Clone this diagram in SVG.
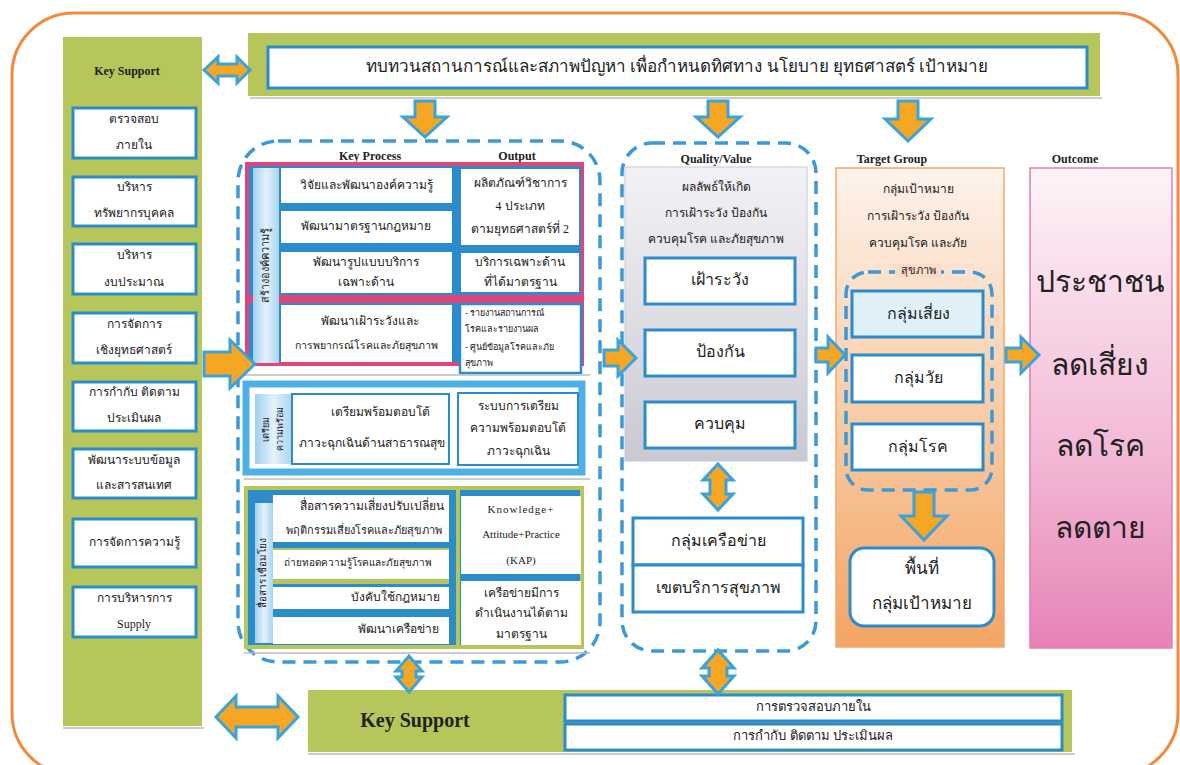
<svg xmlns="http://www.w3.org/2000/svg" width="1180" height="765" viewBox="0 0 1180 765">
<defs>
<linearGradient id="gLabel" x1="0" y1="0" x2="1" y2="0"><stop offset="0" stop-color="#9fd0ee"/><stop offset="0.5" stop-color="#e4f2fb"/><stop offset="1" stop-color="#a9d5ef"/></linearGradient>
<linearGradient id="gGray" x1="0" y1="0" x2="0" y2="1"><stop offset="0" stop-color="#f2f2f6"/><stop offset="1" stop-color="#c9c9d3"/></linearGradient>
<linearGradient id="gOrange" x1="0" y1="0" x2="0" y2="1"><stop offset="0" stop-color="#fdf3ec"/><stop offset="0.5" stop-color="#f8cda8"/><stop offset="1" stop-color="#f4a463"/></linearGradient>
<linearGradient id="gPink" x1="0" y1="0" x2="0" y2="1"><stop offset="0" stop-color="#fdf4f8"/><stop offset="0.6" stop-color="#f3b8d6"/><stop offset="1" stop-color="#e683b6"/></linearGradient>
<style>
.t{font-family:"Liberation Serif","Noto Sans",serif;fill:#222;text-anchor:middle;dominant-baseline:middle}
.l{text-anchor:start}
.s{font-size:12px}
.m{font-size:13px}
.h{font-size:12px;font-weight:bold}
.big{font-size:30px}
.green{fill:#b6c65a}
.wb{fill:#fff;stroke:#2b8ccc;stroke-width:3}
.dash{fill:none;stroke:#3a9ad9;stroke-width:3.5;stroke-dasharray:13 8}
.arr{fill:#f5a623;stroke:#3aa2dc;stroke-width:3;stroke-linejoin:miter}
.sh{stroke:#bbb;stroke-width:1.5}
</style>
</defs>
<rect x="12" y="13" width="1166" height="762" rx="62" fill="#fff" stroke="#f08a3c" stroke-width="3"/>

<g id="left-support">
<rect x="63" y="37" width="139" height="689" class="green"/>
<line x1="63" y1="728" x2="204" y2="728" class="sh"/>
<text x="127" y="72" class="t h">Key Support</text>
<rect x="73" y="108" width="123" height="50" class="wb"/><text x="134" y="120" class="t s">ตรวจสอบ</text><text x="134" y="146" class="t s">ภายใน</text>
<rect x="73" y="177" width="123" height="49" class="wb"/><text x="134" y="188" class="t s">บริหาร</text><text x="134" y="214" class="t s">ทรัพยากรบุคคล</text>
<rect x="73" y="244" width="123" height="50" class="wb"/><text x="134" y="256" class="t s">บริหาร</text><text x="134" y="283" class="t s">งบประมาณ</text>
<rect x="73" y="313" width="123" height="50" class="wb"/><text x="134" y="325" class="t s">การจัดการ</text><text x="134" y="351" class="t s">เชิงยุทธศาสตร์</text>
<rect x="73" y="382" width="123" height="49" class="wb"/><text x="134" y="393" class="t s">การกำกับ ติดตาม</text><text x="134" y="419" class="t s">ประเมินผล</text>
<rect x="73" y="449" width="123" height="49" class="wb"/><text x="134" y="461" class="t s">พัฒนาระบบข้อมูล</text><text x="134" y="486" class="t s">และสารสนเทศ</text>
<rect x="73" y="519" width="123" height="48" class="wb"/><text x="134" y="543" class="t s">การจัดการความรู้</text>
<rect x="73" y="587" width="123" height="50" class="wb"/><text x="134" y="599" class="t s">การบริหารการ</text><text x="134" y="625" class="t s">Supply</text>
</g>

<g id="top-bar">
<rect x="248" y="33" width="852" height="63" class="green"/>
<line x1="250" y1="98" x2="1102" y2="98" class="sh"/>
<rect x="268" y="47" width="819" height="41" class="wb"/>
<text x="677" y="68" class="t" font-size="17">ทบทวนสถานการณ์และสภาพปัญหา เพื่อกำหนดทิศทาง นโยบาย ยุทธศาสตร์ เป้าหมาย</text>
</g>

<g id="key-process">
<rect x="238" y="141" width="362" height="521" rx="40" class="dash"/>
<text x="370" y="157" class="t h">Key Process</text>
<text x="517" y="157" class="t h">Output</text>
<g id="sec-surveillance">
<rect x="247" y="164" width="335" height="200" fill="#2b8ccc" stroke="#e0457a" stroke-width="4"/>
<rect x="249" y="295" width="333" height="8" fill="#e0457a"/>
<rect x="253" y="168" width="26" height="195" fill="url(#gLabel)"/>
<text transform="translate(266,265) rotate(-90)" class="t" font-size="11">สร้างองค์ความรู้</text>
<rect x="281" y="168" width="171" height="35" fill="#fff"/><text x="366" y="186" class="t s">วิจัยและพัฒนาองค์ความรู้</text>
<rect x="281" y="211" width="171" height="32" fill="#fff"/><text x="366" y="227" class="t s">พัฒนามาตรฐานกฎหมาย</text>
<rect x="281" y="252" width="171" height="41" fill="#fff"/><text x="366" y="263" class="t s">พัฒนารูปแบบบริการ</text><text x="366" y="283" class="t s">เฉพาะด้าน</text>
<rect x="281" y="305" width="171" height="57" fill="#fff"/><text x="370" y="322" class="t s">พัฒนาเฝ้าระวังและ</text><text x="366" y="347" class="t" font-size="10.5">การพยากรณ์โรคและภัยสุขภาพ</text>
<rect x="460" y="168" width="120" height="78" fill="#fff" stroke="#2b8ccc" stroke-width="2"/>
<text x="520" y="184" class="t s">ผลิตภัณฑ์วิชาการ</text><text x="520" y="207" class="t s">4 ประเภท</text><text x="520" y="230" class="t s">ตามยุทธศาสตร์ที่ 2</text>
<rect x="460" y="252" width="120" height="41" fill="#fff" stroke="#2b8ccc" stroke-width="2"/>
<text x="520" y="263" class="t s">บริการเฉพาะด้าน</text><text x="520" y="283" class="t s">ที่ได้มาตรฐาน</text>
<rect x="460" y="304" width="121" height="69" fill="#fff" stroke="#2b8ccc" stroke-width="2.5"/>
<text x="465" y="314" class="t l" font-size="9">- รายงานสถานการณ์</text>
<text x="465" y="330" class="t l" font-size="9">โรคและรายงานผล</text>
<text x="465" y="348" class="t l" font-size="9">- ศูนย์ข้อมูลโรคและภัย</text>
<text x="465" y="364" class="t l" font-size="9">สุขภาพ</text>
</g>
<line x1="244" y1="375" x2="590" y2="375" class="sh"/>
<g id="sec-response">
<rect x="246" y="384" width="336" height="88" fill="#fff" stroke="#4fb0e3" stroke-width="7"/>
<rect x="255" y="394" width="37" height="70" fill="url(#gLabel)"/>
<text transform="translate(267,429) rotate(-90)" class="t" font-size="9">เตรียม</text>
<text transform="translate(281,429) rotate(-90)" class="t" font-size="9">ความพร้อม</text>
<rect x="292" y="394" width="157" height="70" fill="#fff" stroke="#2b8ccc" stroke-width="2"/>
<text x="380" y="413" class="t s">เตรียมพร้อมตอบโต้</text><text x="372" y="444" class="t s">ภาวะฉุกเฉินด้านสาธารณสุข</text>
<rect x="458" y="393" width="120" height="72" fill="#fff" stroke="#2b8ccc" stroke-width="2"/>
<text x="518" y="407" class="t s">ระบบการเตรียม</text><text x="518" y="429" class="t s">ความพร้อมตอบโต้</text><text x="518" y="452" class="t s">ภาวะฉุกเฉิน</text>
</g>
<line x1="244" y1="479" x2="590" y2="479" class="sh"/>
<g id="sec-communication">
<rect x="246" y="488" width="336" height="159" fill="#2b8ccc" stroke="#b6c65a" stroke-width="4"/>
<rect x="255" y="503" width="18" height="140" fill="url(#gLabel)"/>
<text transform="translate(264,573) rotate(-90)" class="t" font-size="10">สื่อสาร เชื่อมโยง</text>
<rect x="273" y="495" width="176" height="47" fill="#fff"/>
<text x="372" y="507" class="t s">สื่อสารความเสี่ยงปรับเปลี่ยน</text><text x="364" y="531" class="t" font-size="11">พฤติกรรมเสี่ยงโรคและภัยสุขภาพ</text>
<rect x="273" y="548" width="176" height="6" fill="#b6c65a"/>
<rect x="273" y="550" width="176" height="29" fill="#fff"/>
<text x="358" y="564" class="t" font-size="10">ถ่ายทอดความรู้โรคและภัยสุขภาพ</text>
<rect x="273" y="579" width="176" height="5" fill="#b6c65a"/>
<rect x="273" y="587" width="176" height="22" fill="#fff"/>
<text x="395" y="598" class="t s">บังคับใช้กฎหมาย</text>
<rect x="273" y="617" width="176" height="27" fill="#fff"/>
<text x="398" y="630" class="t s">พัฒนาเครือข่าย</text>
<rect x="456" y="488" width="4" height="159" fill="#b6c65a"/>
<rect x="461" y="496" width="120" height="78" fill="#fff"/>
<text x="521" y="510" class="t" font-size="11" letter-spacing="1">Knowledge+</text>
<text x="521" y="535" class="t" font-size="11">Attitude+Practice</text>
<text x="521" y="561" class="t" font-size="11">(KAP)</text>
<rect x="461" y="581" width="120" height="64" fill="#fff"/>
<text x="521" y="594" class="t s">เครือข่ายมีการ</text><text x="521" y="614" class="t s">ดำเนินงานได้ตาม</text><text x="521" y="635" class="t s">มาตรฐาน</text>
</g>
<line x1="244" y1="653" x2="590" y2="653" class="sh"/>
</g>

<g id="quality-value">
<rect x="622" y="143" width="194" height="508" rx="30" class="dash"/>
<text x="716" y="160" class="t h">Quality/Value</text>
<rect x="625" y="167" width="182" height="294" fill="url(#gGray)" stroke="#c8c8d0" stroke-width="1"/>
<text x="716" y="188" class="t s">ผลลัพธ์ให้เกิด</text>
<text x="716" y="214" class="t s">การเฝ้าระวัง ป้องกัน</text>
<text x="716" y="240" class="t s">ควบคุมโรค และภัยสุขภาพ</text>
<rect x="645" y="258" width="150" height="46" class="wb"/><text x="720" y="281" class="t" font-size="16">เฝ้าระวัง</text>
<rect x="645" y="330" width="150" height="46" class="wb"/><text x="720" y="353" class="t" font-size="16">ป้องกัน</text>
<rect x="645" y="402" width="150" height="46" class="wb"/><text x="720" y="425" class="t" font-size="16">ควบคุม</text>
</g>

<g id="network">
<rect x="633" y="518" width="170" height="47" class="wb"/><text x="718" y="542" class="t" font-size="16">กลุ่มเครือข่าย</text>
<rect x="633" y="565" width="170" height="47" class="wb"/><text x="718" y="589" class="t" font-size="16">เขตบริการสุขภาพ</text>
</g>

<g id="target-group">
<text x="892" y="160" class="t h">Target Group</text>
<rect x="836" y="168" width="168" height="479" fill="url(#gOrange)" stroke="#f4a96c" stroke-width="1.5"/>
<text x="918" y="190" class="t s">กลุ่มเป้าหมาย</text>
<text x="918" y="217" class="t s">การเฝ้าระวัง ป้องกัน</text>
<text x="918" y="244" class="t s">ควบคุมโรค และภัย</text>
<rect x="846" y="272" width="146" height="218" rx="22" class="dash" stroke-width="3"/>
<rect x="895" y="264" width="46" height="14" fill="#f9dcc3"/>
<text x="918" y="271" class="t" font-size="11">สุขภาพ</text>
<rect x="852" y="291" width="131" height="46" fill="#dff0f9" stroke="#2b8ccc" stroke-width="3"/><text x="918" y="315" class="t" font-size="16">กลุ่มเสี่ยง</text>
<rect x="852" y="355" width="131" height="47" class="wb"/><text x="918" y="379" class="t" font-size="16">กลุ่มวัย</text>
<rect x="852" y="424" width="131" height="46" class="wb"/><text x="918" y="448" class="t" font-size="16">กลุ่มโรค</text>
<rect x="850" y="548" width="144" height="78" rx="14" class="wb"/>
<text x="922" y="570" class="t" font-size="17">พื้นที่</text>
<text x="922" y="605" class="t" font-size="17">กลุ่มเป้าหมาย</text>
</g>

<g id="outcome">
<text x="1075" y="160" class="t h">Outcome</text>
<rect x="1030" y="168" width="142" height="480" fill="url(#gPink)" stroke="#e07fb0" stroke-width="1.5"/>
<text x="1100" y="285" class="t big">ประชาชน</text>
<text x="1100" y="368" class="t big">ลดเสี่ยง</text>
<text x="1100" y="449" class="t big">ลดโรค</text>
<text x="1100" y="531" class="t big">ลดตาย</text>
</g>

<g id="bottom-support">
<rect x="308" y="690" width="764" height="62" class="green"/>
<line x1="308" y1="754" x2="1075" y2="754" class="sh"/>
<text x="415" y="722" class="t" font-size="20" font-weight="bold">Key Support</text>
<rect x="565" y="695" width="497" height="26" class="wb"/><text x="813" y="708" class="t m">การตรวจสอบภายใน</text>
<rect x="565" y="724" width="497" height="26" class="wb"/><text x="813" y="737" class="t m">การกำกับ ติดตาม ประเมินผล</text>
</g>

<g id="connectors">
<path class="arr" d="M204,70 l14,-13 v7 h19 v-7 l13,13 l-13,13 v-7 h-19 v7 z"/>
<path class="arr" d="M415,101 h20 v16 h12 l-22,20 l-22,-20 h12 z"/>
<path class="arr" d="M708,101 h20 v16 h12 l-22,20 l-22,-20 h12 z"/>
<path class="arr" d="M898,101 h20 v18 h13 l-23,22 l-23,-22 h13 z"/>
<path class="arr" d="M204,352 h26 v-12 l25,24 l-25,24 v-12 h-26 z"/>
<path class="arr" d="M604,350 h14 v-10 l18,18 l-18,18 v-10 h-14 z"/>
<path class="arr" d="M816,348 h12 v-11 l17,18 l-17,18 v-11 h-12 z"/>
<path class="arr" d="M1006,348 h15 v-11 l18,18 l-18,18 v-11 h-15 z"/>
<path class="arr" d="M718,464 l15,16 h-7 v14 h7 l-15,16 l-15,-16 h7 v-14 h-7 z"/>
<path class="arr" d="M914,492 h20 v24 h13 l-23,24 l-23,-24 h13 z"/>
<path class="arr" d="M409,656 l13,15 h-6 v6 h6 l-13,15 l-13,-15 h6 v-6 h-6 z"/>
<path class="arr" d="M718,650 l16,18 h-7 v8 h7 l-16,18 l-16,-18 h7 v-8 h-7 z"/>
<path class="arr" d="M216,717 l20,-21 v11 h42 v-11 l20,21 l-20,21 v-11 h-42 v11 z"/>
</g>
</svg>
